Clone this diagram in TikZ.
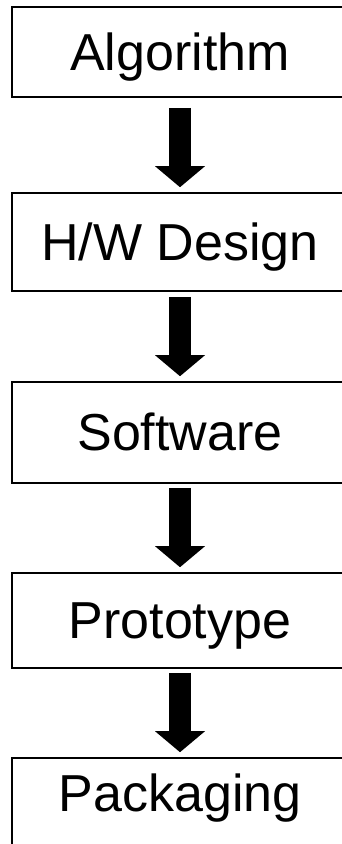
\documentclass[tikz,border=0pt]{standalone}
\usepackage{fontspec}
\setmainfont{Liberation Sans}
\usetikzlibrary{arrows.meta}
\begin{document}
\begin{tikzpicture}[x=1pt,y=1pt,
  stage/.style={draw=black, line width=1.6pt, rectangle, minimum width=336pt, inner sep=0pt,
    font=\fontsize{52}{52}\selectfont, text height=37pt, text depth=0pt},
  bigarrow/.style={line width=22pt, draw=black,
    -{Triangle[width=50pt,length=21pt,line width=0pt]}}]
\useasboundingbox (0,0) rectangle (342,844);
\clip (0,0) rectangle (342,844);
\node[stage, minimum height=90pt] (alg) at (180,792) {Algorithm};
\node[stage, minimum height=98pt] (hw) at (180,602) {H/W Design};
\node[stage, minimum height=101pt] (sw) at (180,411.5) {Software};
\node[stage, minimum height=95pt] (proto) at (180,223.5) {Prototype};
\node[stage, minimum height=102pt, text depth=32pt] (pack) at (180,35) {Packaging};
\draw[bigarrow] ([yshift=-10pt]alg.south) -- ([yshift=5pt]hw.north);
\draw[bigarrow] ([yshift=-5pt]hw.south) -- ([yshift=5pt]sw.north);
\draw[bigarrow] ([yshift=-4pt]sw.south) -- ([yshift=5pt]proto.north);
\draw[bigarrow] ([yshift=-4pt]proto.south) -- ([yshift=5pt]pack.north);
\end{tikzpicture}
\end{document}
